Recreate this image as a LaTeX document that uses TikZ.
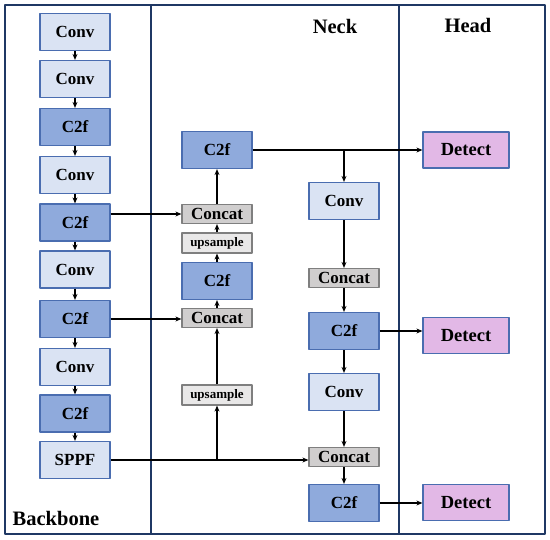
\documentclass[tikz,border=0pt]{standalone}
\usepackage{fontspec}
\setmainfont{Liberation Serif}
\usetikzlibrary{arrows.meta}
\definecolor{convfill}{HTML}{DAE3F3}
\definecolor{cfill}{HTML}{8FAADC}
\definecolor{boxline}{HTML}{4A6DB0}
\definecolor{catfill}{HTML}{D0CECE}
\definecolor{upfill}{HTML}{E9E8E8}
\definecolor{catline}{HTML}{7F7F7F}
\definecolor{detfill}{HTML}{E2B8E6}
\definecolor{frameline}{HTML}{1F3864}
\begin{document}
\begin{tikzpicture}[x=1pt, y=-1pt, line join=round, >={Stealth[length=6pt,width=5pt]},
  blk/.style={draw=boxline, line width=1.2pt, minimum width=70pt, minimum height=37pt, inner sep=0pt, font=\fontsize{17}{17}\selectfont\bfseries},
  conv/.style={blk, fill=convfill},
  ctwo/.style={blk, fill=cfill},
  cat/.style={blk, draw=catline, fill=catfill, minimum height=19pt},
  ups/.style={cat, fill=upfill, minimum height=20pt, font=\fontsize{13}{13}\selectfont\bfseries},
  det/.style={blk, fill=detfill, minimum width=86pt, minimum height=36pt, font=\fontsize{18.5}{18.5}\selectfont\bfseries},
  title/.style={font=\fontsize{20.5}{20.5}\selectfont\bfseries},
  link/.style={->, line width=1.6pt}]
	\useasboundingbox (0,0) rectangle (550,540);
	\draw[frameline, line width=1.8pt] (5,5) rectangle (545,534);
	\draw[frameline, line width=1.8pt] (151,5) -- (151,534);
	\draw[frameline, line width=1.8pt] (399,5) -- (399,534);
	\node[title] (neck) at (335,26) {Neck};
	\node[title] (head) at (468,25) {Head};
	\node[title] (backbone) at (56,518) {Backbone};
	\node[conv] (b1) at (75,32) {Conv};
	\node[conv] (b2) at (75,79) {Conv};
	\node[ctwo] (b3) at (75,127) {C2f};
	\node[conv] (b4) at (75,175) {Conv};
	\node[ctwo] (b5) at (75,222.5) {C2f};
	\node[conv] (b6) at (75,269.5) {Conv};
	\node[ctwo] (b7) at (75,319) {C2f};
	\node[conv] (b8) at (75,367) {Conv};
	\node[ctwo] (b9) at (75,413.5) {C2f};
	\node[conv] (b10) at (75,460) {SPPF};
	\foreach \a/\b in {b1/b2, b2/b3, b3/b4, b4/b5, b5/b6, b6/b7, b7/b8, b8/b9, b9/b10}
		\draw[link] (\a) -- (\b);
	\node[ctwo] (n1) at (217,150) {C2f};
	\node[cat] (cc1) at (217,214) {Concat};
	\node[ups] (up1) at (217,243) {upsample};
	\node[ctwo] (n2) at (217,281) {C2f};
	\node[cat] (cc2) at (217,318) {Concat};
	\node[ups] (up2) at (217,395) {upsample};
	\node[conv] (r1) at (344,201) {Conv};
	\node[cat] (cc3) at (344,278) {Concat};
	\node[ctwo] (r2) at (344,331) {C2f};
	\node[conv] (r3) at (344,392) {Conv};
	\node[cat] (cc4) at (344,457) {Concat};
	\node[ctwo] (r4) at (344,503) {C2f};
	\node[det] (d1) at (466,150) {Detect};
	\node[det] (d2) at (466,335.5) {Detect};
	\node[det] (d3) at (466,502.5) {Detect};
	\foreach \a/\b in {up2/cc2, cc2/n2, n2/up1, up1/cc1, cc1/n1, r1/cc3, cc3/r2, r2/r3, r3/cc4, cc4/r4}
		\draw[link] (\a) -- (\b);
	\draw[link] (b5.east |- cc1) -- (cc1.west);
	\draw[link] (b7.east) -- (b7.east -| cc2.west);
	\draw[link] (b10.east) -- (b10.east -| cc4.west);
	\coordinate (split) at (b10.east -| up2.south);
	\draw[link] (split) -- (up2.south);
	\draw[link] (n1.east) -- (n1.east -| d1.west);
	\coordinate (fork) at (n1.east -| r1.north);
	\draw[link] (fork) -- (r1.north);
	\draw[link] (r2.east) -- (r2.east -| d2.west);
	\draw[link] (r4.east) -- (r4.east -| d3.west);
\end{tikzpicture}
\end{document}
